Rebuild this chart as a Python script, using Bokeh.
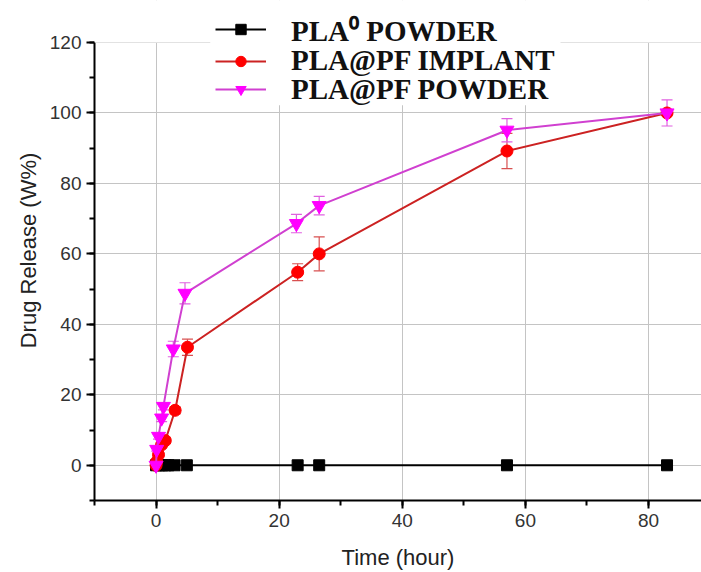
from bokeh.plotting import figure
from bokeh.models import (ColumnDataSource, Whisker, TeeHead, Legend, LegendItem,
                          SingleIntervalTicker, Range1d, BoxAnnotation)
from bokeh.embed import file_html
from bokeh.resources import INLINE

# ---- data ----
t_black = [0, 0.5, 1, 1.5, 2, 3, 5, 23, 26.5, 57, 83]
y_black = [0, 0, 0, 0, 0, 0, 0, 0, 0, 0, 0]

t_red = [0, 0.1, 0.4, 0.9, 1.5, 3.1, 5.1, 23, 26.5, 57, 83]
y_red = [0, 1.0, 3.0, 5.8, 7.0, 15.6, 33.5, 54.8, 60.0, 89.2, 100]
e_red = [0, 0.5, 0.5, 0.8, 0.8, 1.0, 2.3, 2.4, 4.8, 5.0, 0.5]

t_mag = [0, 0.1, 0.4, 0.9, 1.2, 2.8, 4.7, 22.8, 26.5, 57, 83]
y_mag = [0, 4.5, 8.2, 13.4, 16.7, 33.0, 48.8, 68.6, 73.7, 95.1, 100]
e_mag = [0, 0.5, 0.8, 1.0, 1.0, 2.2, 3.0, 2.6, 2.6, 3.3, 3.7]

labels = ["PLA\u2070 POWDER", "PLA@PF IMPLANT", "PLA@PF POWDER"]

X0, X1 = -10, 88.6
Y0, Y1 = -10, 120
Y_TOP = 131.92  # frame reaches the top of the canvas; axis stops at 120

p = figure(width=701, height=572, output_backend="svg", toolbar_location=None,
           x_range=Range1d(X0, X1), y_range=Range1d(Y0, Y_TOP),
           min_border_left=94, min_border_top=0, min_border_right=0,
           min_border_bottom=72)
p.outline_line_color = None
p.background_fill_color = "white"
p.border_fill_color = "white"

for ax in (p.xaxis[0], p.yaxis[0]):
    ax.ticker = SingleIntervalTicker(interval=20, num_minor_ticks=2)
    ax.axis_line_width = 2
    ax.axis_line_color = "black"
    ax.major_tick_line_width = 2
    ax.minor_tick_line_width = 2
    ax.major_tick_in = 0
    ax.major_tick_out = 8
    ax.minor_tick_in = 0
    ax.minor_tick_out = 5
    ax.major_label_text_font = "Liberation Sans"
    ax.major_label_text_font_size = "19px"
    ax.major_label_text_color = "#333333"
    ax.axis_label_text_font = "Liberation Sans"
    ax.axis_label_text_font_size = "22px"
    ax.axis_label_text_font_style = "normal"
    ax.axis_label_text_color = "#222222"

p.yaxis.bounds = (Y0, Y1)
p.xaxis.axis_label = "Time (hour)"
p.yaxis.axis_label = "Drug Release (W%)"
p.xaxis.major_label_standoff = 5
p.xaxis.axis_label_standoff = 15
p.yaxis.major_label_standoff = 5
p.yaxis.axis_label_standoff = 6

p.xgrid.ticker = SingleIntervalTicker(interval=20)
p.ygrid.ticker = SingleIntervalTicker(interval=20)
p.grid.grid_line_color = "#c4c4c4"
p.grid.grid_line_width = 1

# white strip above the plot's top (y > 120) and white area behind the legend
p.add_layout(BoxAnnotation(left=X0, right=X1, bottom=Y1, top=Y_TOP,
                           fill_color="white", fill_alpha=1.0, line_alpha=0))
p.add_layout(BoxAnnotation(left=8.8, right=65.7, bottom=102.2, top=Y_TOP,
                           fill_color="white", fill_alpha=1.0, line_alpha=0))

# black series
lb = p.line(t_black, y_black, line_color="black", line_width=2)
sb = p.scatter(t_black, y_black, marker="square", size=11, fill_color="black",
               line_color="black")

# red series
src_r = ColumnDataSource(dict(x=t_red, y=y_red,
                              lo=[a - b for a, b in zip(y_red, e_red)],
                              hi=[a + b for a, b in zip(y_red, e_red)]))
wr = Whisker(base="x", upper="hi", lower="lo", source=src_r,
             line_color="#d85050", line_width=1.2,
             upper_head=TeeHead(size=11, line_color="#d85050", line_width=1.2),
             lower_head=TeeHead(size=11, line_color="#d85050", line_width=1.2))
p.add_layout(wr)
lr = p.line("x", "y", source=src_r, line_color="#cc2222", line_width=2)
sr = p.scatter("x", "y", source=src_r, marker="circle", size=12,
               fill_color="#ff0000", line_color="#ff0000")

# magenta series
src_m = ColumnDataSource(dict(x=t_mag, y=y_mag,
                              lo=[a - b for a, b in zip(y_mag, e_mag)],
                              hi=[a + b for a, b in zip(y_mag, e_mag)]))
wm = Whisker(base="x", upper="hi", lower="lo", source=src_m,
             line_color="#e060e0", line_width=1.2,
             upper_head=TeeHead(size=11, line_color="#e060e0", line_width=1.2),
             lower_head=TeeHead(size=11, line_color="#e060e0", line_width=1.2))
p.add_layout(wm)
lm = p.line("x", "y", source=src_m, line_color="#d040d0", line_width=2)
sm = p.scatter("x", "y", source=src_m, marker="inverted_triangle", size=14,
               fill_color="#ff00ff", line_color="#ff00ff")

# legend: one row per Legend so row spacing can match the reference
rows = [(labels[0], [lb, sb], 451.5),
        (labels[1], [lr, sr], 423.0),
        (labels[2], [lm, sm], 394.5)]
for lab, rends, vy in rows:
    lg = Legend(items=[LegendItem(label=lab, renderers=rends)], location=(121, vy))
    lg.label_text_font = "Liberation Serif"
    lg.label_text_font_size = "29px"
    lg.label_text_font_style = "bold"
    lg.label_text_color = "#111111"
    lg.glyph_width = 51
    lg.glyph_height = 26
    lg.label_height = 26
    lg.spacing = 0
    lg.padding = 2
    lg.margin = 0
    lg.label_standoff = 25
    lg.border_line_color = None
    lg.background_fill_alpha = 0.0
    p.add_layout(lg, "center")

open("out.html", "w").write(file_html(p, INLINE))
